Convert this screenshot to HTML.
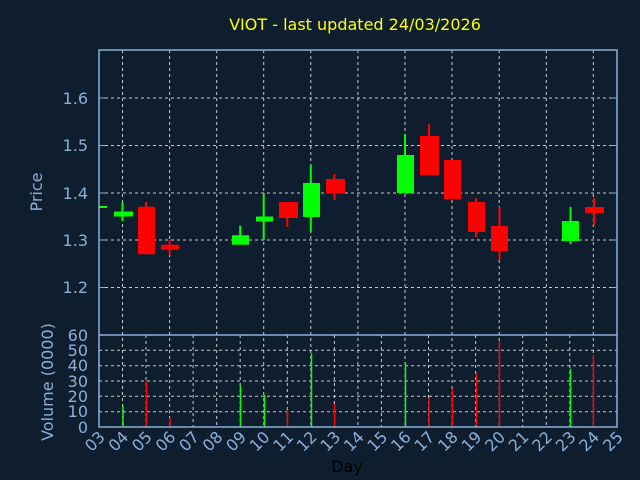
<!DOCTYPE html>
<html><head><style>body{margin:0;background:#0f1e2f}svg{display:block}</style></head><body>
<svg width="640" height="480" xmlns="http://www.w3.org/2000/svg" font-family="'DejaVu Sans','Liberation Sans',sans-serif">
<rect width="640" height="480" fill="#0f1e2f"/>
<text x="355" y="30" fill="#ffff00" font-size="16" text-anchor="middle">VIOT - last updated 24/03/2026</text>
<g stroke="#c8c8c8" stroke-width="1" stroke-dasharray="3,3">
<line x1="99" x2="617" y1="98" y2="98"/><line x1="99" x2="617" y1="145.5" y2="145.5"/><line x1="99" x2="617" y1="193" y2="193"/><line x1="99" x2="617" y1="240" y2="240"/><line x1="99" x2="617" y1="287.5" y2="287.5"/>
<line x1="99" x2="617" y1="411.7" y2="411.7"/><line x1="99" x2="617" y1="396.3" y2="396.3"/><line x1="99" x2="617" y1="381" y2="381"/><line x1="99" x2="617" y1="365.7" y2="365.7"/><line x1="99" x2="617" y1="350.3" y2="350.3"/>
<line x1="122.5" x2="122.5" y1="50" y2="427"/><line x1="146" x2="146" y1="335" y2="427"/><line x1="169.6" x2="169.6" y1="50" y2="427"/><line x1="193.1" x2="193.1" y1="335" y2="427"/><line x1="216.7" x2="216.7" y1="50" y2="427"/><line x1="240.2" x2="240.2" y1="335" y2="427"/><line x1="263.7" x2="263.7" y1="50" y2="427"/><line x1="287.3" x2="287.3" y1="335" y2="427"/><line x1="310.8" x2="310.8" y1="50" y2="427"/><line x1="334.4" x2="334.4" y1="335" y2="427"/><line x1="357.9" x2="357.9" y1="50" y2="427"/><line x1="381.4" x2="381.4" y1="335" y2="427"/><line x1="405" x2="405" y1="50" y2="427"/><line x1="428.5" x2="428.5" y1="335" y2="427"/><line x1="452" x2="452" y1="50" y2="427"/><line x1="475.6" x2="475.6" y1="335" y2="427"/><line x1="499.2" x2="499.2" y1="50" y2="427"/><line x1="522.7" x2="522.7" y1="335" y2="427"/><line x1="546.3" x2="546.3" y1="50" y2="427"/><line x1="569.8" x2="569.8" y1="335" y2="427"/><line x1="593.3" x2="593.3" y1="50" y2="427"/>
</g>
<g stroke-width="2">
<rect x="99" y="206" width="8" height="2" fill="#00ff00"/>
<line x1="122.5" x2="122.5" y1="202" y2="221" stroke="#00ff00"/><rect x="114" y="211.5" width="19" height="5" fill="#00ff00"/>
<line x1="146" x2="146" y1="202" y2="254" stroke="#ff0000"/><rect x="138" y="206.75" width="17" height="47.5" fill="#ff0000"/>
<line x1="169.6" x2="169.6" y1="240" y2="255" stroke="#ff0000"/><rect x="161" y="244.75" width="18" height="5" fill="#ff0000"/>
<line x1="240.2" x2="240.2" y1="225.7" y2="240" stroke="#00ff00"/><rect x="232" y="235.25" width="17" height="9.5" fill="#00ff00"/>
<line x1="263.7" x2="263.7" y1="193" y2="240" stroke="#00ff00"/><rect x="256" y="216.5" width="17" height="5" fill="#00ff00"/>
<line x1="287.3" x2="287.3" y1="202" y2="227" stroke="#ff0000"/><rect x="279" y="202" width="19" height="16" fill="#ff0000"/>
<line x1="310.8" x2="310.8" y1="165" y2="232" stroke="#00ff00"/><rect x="303" y="183" width="17" height="34" fill="#00ff00"/>
<line x1="334.4" x2="334.4" y1="174" y2="200" stroke="#ff0000"/><rect x="326" y="179" width="19" height="14.5" fill="#ff0000"/>
<line x1="405" x2="405" y1="134" y2="155" stroke="#00ff00"/><rect x="397" y="155" width="17" height="38" fill="#00ff00"/>
<line x1="429" x2="429" y1="124" y2="136" stroke="#ff0000"/><rect x="420" y="136" width="19" height="39" fill="#ff0000"/>
<rect x="444" y="160" width="17" height="39" fill="#ff0000"/>
<line x1="476" x2="476" y1="198" y2="237" stroke="#ff0000"/><rect x="468" y="202" width="17" height="30" fill="#ff0000"/>
<line x1="499.5" x2="499.5" y1="207" y2="260" stroke="#ff0000"/><rect x="491" y="226" width="17" height="25" fill="#ff0000"/>
<line x1="570.5" x2="570.5" y1="207" y2="244" stroke="#00ff00"/><rect x="562" y="221" width="17" height="20" fill="#00ff00"/>
<line x1="594" x2="594" y1="198" y2="225" stroke="#ff0000"/><rect x="585" y="207" width="19" height="6" fill="#ff0000"/>
</g>
<g stroke-width="1.5">
<line x1="123" x2="123" y1="405.5" y2="427" stroke="#00ff00"/>
<line x1="146.5" x2="146.5" y1="381" y2="427" stroke="#ff0000"/>
<line x1="170" x2="170" y1="417.8" y2="427" stroke="#ff0000"/>
<line x1="240.5" x2="240.5" y1="385.6" y2="427" stroke="#00ff00"/>
<line x1="264.5" x2="264.5" y1="394.8" y2="427" stroke="#00ff00"/>
<line x1="287.5" x2="287.5" y1="410" y2="427" stroke="#ff0000"/>
<line x1="311.5" x2="311.5" y1="353.4" y2="427" stroke="#00ff00"/>
<line x1="334.5" x2="334.5" y1="404" y2="427" stroke="#ff0000"/>
<line x1="405.5" x2="405.5" y1="362.6" y2="427" stroke="#00ff00"/>
<line x1="429" x2="429" y1="397.9" y2="427" stroke="#ff0000"/>
<line x1="452.5" x2="452.5" y1="388.7" y2="427" stroke="#ff0000"/>
<line x1="476.5" x2="476.5" y1="373.4" y2="427" stroke="#ff0000"/>
<line x1="499.5" x2="499.5" y1="341.2" y2="427" stroke="#ff0000"/>
<line x1="570.5" x2="570.5" y1="368.8" y2="427" stroke="#00ff00"/>
<line x1="593.5" x2="593.5" y1="354.9" y2="427" stroke="#ff0000"/>
</g>
<g stroke="#8ab0da" stroke-width="1.5" fill="none">
<rect x="99" y="50" width="518" height="377"/>
<line x1="99" x2="617" y1="335" y2="335"/>
</g>
<g stroke="#8ab0da" stroke-width="1">
<line x1="99" x2="105" y1="98" y2="98"/><line x1="99" x2="105" y1="145.5" y2="145.5"/><line x1="99" x2="105" y1="193" y2="193"/><line x1="99" x2="105" y1="240" y2="240"/><line x1="99" x2="105" y1="287.5" y2="287.5"/>
<line x1="611" x2="617" y1="98" y2="98"/><line x1="611" x2="617" y1="145.5" y2="145.5"/><line x1="611" x2="617" y1="193" y2="193"/><line x1="611" x2="617" y1="240" y2="240"/><line x1="611" x2="617" y1="287.5" y2="287.5"/>
</g>
<g fill="#8ab0da" font-size="16" text-anchor="end">
<text x="88" y="104">1.6</text><text x="88" y="151">1.5</text><text x="88" y="199">1.4</text><text x="88" y="246">1.3</text><text x="88" y="293">1.2</text>
<text x="88" y="341">60</text><text x="88" y="356">50</text><text x="88" y="371">40</text><text x="88" y="387">30</text><text x="88" y="402">20</text><text x="88" y="417">10</text><text x="88" y="433">0</text>
</g>
<text transform="translate(42,192) rotate(-90)" fill="#8ab0da" font-size="16" text-anchor="middle">Price</text>
<text transform="translate(53,382) rotate(-90)" fill="#8ab0da" font-size="16" text-anchor="middle">Volume (0000)</text>
<g fill="#8ab0da" font-size="16" text-anchor="end">
<text transform="translate(106,438) rotate(-45)">03</text><text transform="translate(129.5,438) rotate(-45)">04</text><text transform="translate(153,438) rotate(-45)">05</text><text transform="translate(176.6,438) rotate(-45)">06</text><text transform="translate(200.1,438) rotate(-45)">07</text><text transform="translate(223.7,438) rotate(-45)">08</text><text transform="translate(247.2,438) rotate(-45)">09</text><text transform="translate(270.7,438) rotate(-45)">10</text><text transform="translate(294.3,438) rotate(-45)">11</text><text transform="translate(317.8,438) rotate(-45)">12</text><text transform="translate(341.4,438) rotate(-45)">13</text><text transform="translate(364.9,438) rotate(-45)">14</text><text transform="translate(388.4,438) rotate(-45)">15</text><text transform="translate(412,438) rotate(-45)">16</text><text transform="translate(435.5,438) rotate(-45)">17</text><text transform="translate(459,438) rotate(-45)">18</text><text transform="translate(482.6,438) rotate(-45)">19</text><text transform="translate(506.2,438) rotate(-45)">20</text><text transform="translate(529.7,438) rotate(-45)">21</text><text transform="translate(553.3,438) rotate(-45)">22</text><text transform="translate(576.8,438) rotate(-45)">23</text><text transform="translate(600.3,438) rotate(-45)">24</text><text transform="translate(624,438) rotate(-45)">25</text>
</g>
<text x="347" y="472" fill="#000000" font-size="16" text-anchor="middle">Day</text>
</svg>
</body></html>
